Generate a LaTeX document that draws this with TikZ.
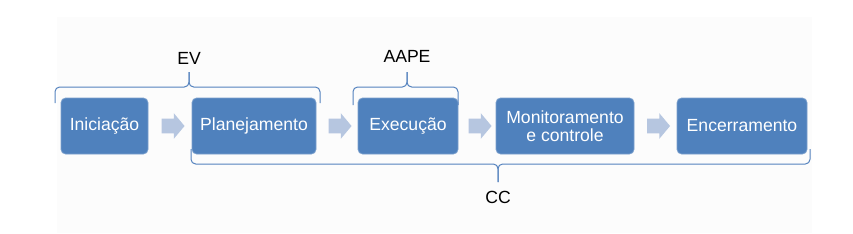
\documentclass[tikz,border=0pt]{standalone}
\usepackage{fontspec}
\setmainfont{Liberation Sans}
\usetikzlibrary{positioning,shapes.arrows,calc}
\definecolor{faseazul}{RGB}{79,129,189}
\definecolor{setaazul}{RGB}{182,198,224}
\definecolor{chaveazul}{RGB}{84,130,190}
\definecolor{fundo}{RGB}{252,252,252}
\tikzset{
  fase/.style={fill=faseazul, draw=faseazul!75!white, line width=0.6pt, rounded corners=3.5pt,
    text=white, minimum height=42pt, inner sep=0pt, align=center,
    font=\fontsize{13.2}{13.8}\selectfont},
  seta/.style={single arrow, fill=setaazul, draw=none, inner xsep=0pt, inner ysep=5.25pt,
    minimum height=17.25pt, single arrow head extend=4.125pt, single arrow tip angle=100},
  chave/.style={draw=chaveazul, line width=0.75pt, rounded corners=3.5pt},
  rotulo/.style={font=\fontsize{13.2}{13.8}\selectfont, text=black, inner sep=0pt}
}
\begin{document}
\begin{tikzpicture}[x=0.75pt,y=-0.75pt]
  \useasboundingbox (0,0) rectangle (853,233);
  \fill[fundo] (57,17) rectangle (812,233);
  % fases do projeto
  \node[fase, minimum width=65.25pt] (ini) at (104.5,126) {Iniciação};
  \node[fase, minimum width=93pt] (plan) at (254,126) {Planejamento};
  \node[fase, minimum width=75pt] (exe) at (408,126) {Execução};
  \node[fase, minimum width=103.5pt] (mon) at (565,126) {Monitoramento\\e controle};
  \node[fase, minimum width=97.5pt] (enc) at (742,126) {Encerramento};
  % setas entre as fases
  \node[seta] (s1) at ($(ini.east)!0.5!(plan.west)$) {};
  \node[seta] (s2) at ($(plan.east)!0.5!(exe.west)$) {};
  \node[seta] (s3) at ($(exe.east)!0.5!(mon.west)$) {};
  \node[seta] (s4) at ($(mon.east)!0.5!(enc.west)$) {};
  % chave EV
  \draw[chave] (55,103) -- (55,87) -- (189,87) -- (189,72);
  \draw[chave] (320,103) -- (320,87) -- (189,87) -- (189,72);
  \node[rotulo] (ev) at (189,58) {EV};
  % chave AAPE
  \draw[chave] (353,105) -- (353,87) -- (407,87) -- (407,72);
  \draw[chave] (458,105) -- (458,87) -- (407,87) -- (407,72);
  \node[rotulo] (aape) at (407,56) {AAPE};
  % chave CC
  \draw[chave] (191,149) -- (191,164) -- (498,164) -- (498,182);
  \draw[chave] (810,149) -- (810,164) -- (498,164) -- (498,182);
  \node[rotulo] (cc) at (498,197) {CC};
\end{tikzpicture}
\end{document}
